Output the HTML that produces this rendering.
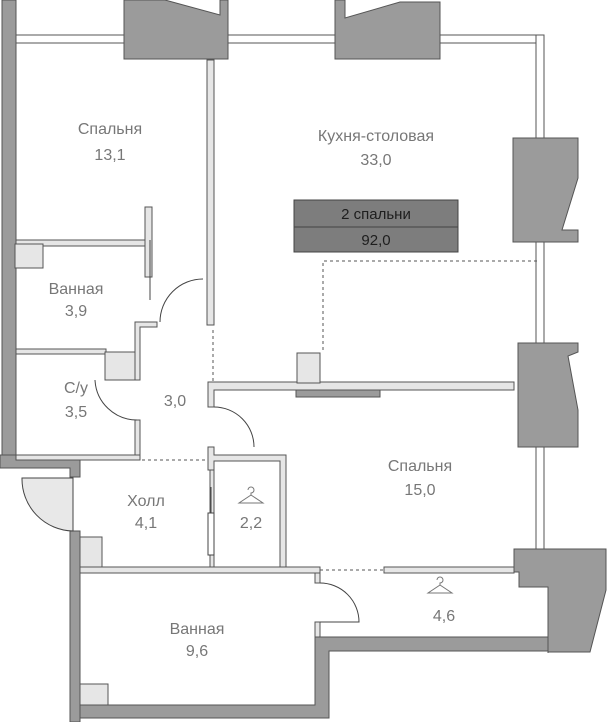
<!DOCTYPE html>
<html><head><meta charset="utf-8"><style>
html,body{margin:0;padding:0;background:#fff;}
svg{display:block}
text{font-family:"Liberation Sans",sans-serif;fill:#777;font-size:16px;text-anchor:middle}
</style></head><body>
<svg width="607" height="722" viewBox="0 0 607 722" xmlns="http://www.w3.org/2000/svg">
<g fill="#fff" stroke="#555" stroke-width="1">
<rect x="16" y="35" width="108" height="8"/>
<rect x="228" y="35" width="107" height="8"/>
<rect x="440" y="35" width="104" height="8"/>
<rect x="536" y="35" width="8" height="103"/>
<rect x="536" y="242" width="8" height="101"/>
<rect x="536" y="447" width="8" height="102"/>
</g>
<g fill="#9b9b9b" stroke="#555" stroke-width="1">
<rect x="2" y="0" width="14" height="460"/>
<path d="M0 455 H80 V477 H70 V468 H0 Z"/>
<rect x="70" y="531" width="10" height="191"/>
<path d="M124 0 H165 L220 15 V0 H228 V59 H124 Z"/>
<path d="M335 0 H345 V18 L400 2 H440 V59 H335 Z"/>
<path d="M513 138 H578 V178 L562 230 H578 V242 H513 Z"/>
<path d="M518 343 H578 V352 L568 356 L578 410 V447 H518 Z"/>
<path d="M514 549 H606 V590 L590 652 H548 V637 H315 V705 H80 V718 H329 V651 H548 V653 H548 V587 H519 V572 H514 Z"/>
<rect x="296" y="383" width="84" height="14"/>
</g>
<g fill="#e6e6e6" stroke="#555" stroke-width="1">
<rect x="207" y="60" width="7" height="265"/>
<rect x="16" y="240" width="130" height="6"/>
<rect x="145" y="207" width="7" height="70"/>
<rect x="16" y="349" width="90" height="5"/>
<rect x="105" y="352" width="32" height="28"/>
<path d="M135 322 H157 V327 H140 V380 H135 Z"/>
<rect x="135" y="420" width="5" height="40"/>
<rect x="16" y="455" width="124" height="5"/>
<path d="M208 382 H514 V390 H214 V407 H208 Z"/>
<rect x="297" y="353" width="23" height="30"/>
<path d="M208 447 H214 V455 H286 V572 H280 V461 H214 V470 H208 Z"/>
<rect x="80" y="567" width="240" height="6"/>
<rect x="384" y="567" width="130" height="6"/>
<rect x="210" y="470" width="4" height="97"/>
<rect x="315" y="573" width="5" height="10"/>
<rect x="315" y="622" width="5" height="15"/>
<rect x="80" y="537" width="22" height="30"/>
<rect x="80" y="684" width="28" height="21"/>
<rect x="15" y="244" width="28" height="24"/>
</g>
<g fill="none" stroke="#444" stroke-width="1">
<path d="M160 322 A43 43 0 0 1 203 279"/>
<path d="M95 380 A42 42 0 0 0 137 420"/>
<path d="M214 407 A40 40 0 0 1 254 447"/>
<path d="M320 583 A39 39 0 0 1 359 622 H320"/>
<path d="M150 240 V300"/>
<path d="M211 487 V545"/>
</g>
<rect x="208" y="513" width="6" height="42" fill="#fff" stroke="#444"/>
<path d="M73 478 V531 A52 52 0 0 1 22 478 Z" fill="#e8e8e8" stroke="#444" stroke-width="1"/>
<g fill="none" stroke="#555" stroke-width="1" stroke-dasharray="3,3">
<path d="M323 350 V261 H537"/>
<path d="M213 330 V382"/>
<path d="M142 460 H208"/>
<path d="M320 570 H384"/>
</g>
<g fill="none" stroke="#777" stroke-width="1">
<path d="M248 490 a3 3 0 1 1 3 3 v2 l-12 8 h24 l-12 -8"/>
<path d="M437 580 a3 3 0 1 1 3 3 v2 l-12 8 h24 l-12 -8"/>
</g>
<rect x="294" y="200" width="164" height="27" fill="#7d7d7d" stroke="#444"/>
<rect x="294" y="227" width="164" height="25" fill="#7d7d7d" stroke="#444"/>
<text x="376" y="219" style="fill:#1e1e1e;font-size:15px">2 спальни</text>
<text x="376" y="245" style="fill:#1e1e1e;font-size:15px">92,0</text>
<text x="110" y="134">Спальня</text><text x="110" y="160">13,1</text>
<text x="376" y="141">Кухня-столовая</text><text x="376" y="165">33,0</text>
<text x="76" y="294">Ванная</text><text x="76" y="316">3,9</text>
<text x="76" y="393">С/у</text><text x="76" y="417">3,5</text>
<text x="175" y="406">3,0</text>
<text x="420" y="471">Спальня</text><text x="420" y="495">15,0</text>
<text x="146" y="506">Холл</text><text x="146" y="528">4,1</text>
<text x="251" y="528">2,2</text>
<text x="444" y="621">4,6</text>
<text x="197" y="634">Ванная</text><text x="197" y="656">9,6</text>
</svg>
</body></html>
